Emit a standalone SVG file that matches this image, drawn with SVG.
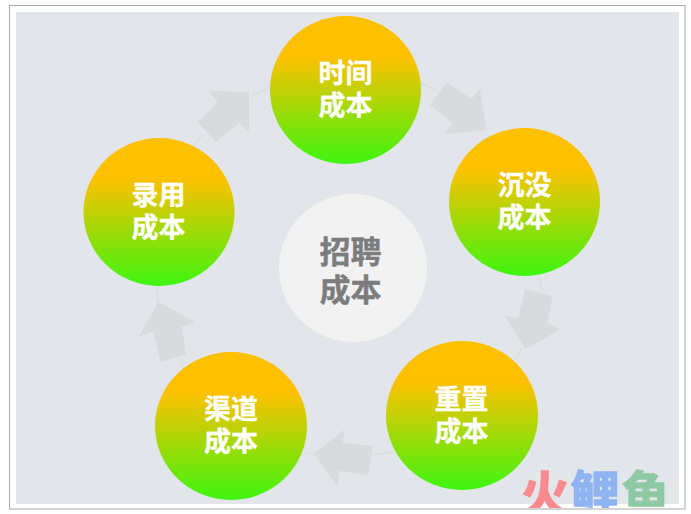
<svg xmlns="http://www.w3.org/2000/svg" width="691" height="514" viewBox="0 0 691 514">
<style>
.f{font-family:"Noto Sans CJK SC","Liberation Sans",sans-serif;font-weight:700;text-anchor:middle}
.l{font-size:27px;fill:#fff;stroke:#fff;stroke-width:.3px}
.c{font-size:31px;fill:#7b7c7e;stroke:#7b7c7e;stroke-width:.4px}
.a{fill:#d9dadb}
.t{fill:none;stroke:#d8dadd;stroke-width:1}
.w{font-size:49px;stroke-width:1.4px}
</style>
<defs>
<linearGradient id="g" x1="0" y1="0" x2="0" y2="1">
<stop offset="0.27" stop-color="#ffc000"/>
<stop offset="1" stop-color="#3ef510"/>
</linearGradient>
<clipPath id="wc"><rect x="510" y="460" width="170" height="48"/></clipPath>
</defs>
<rect width="691" height="514" fill="#fff"/>
<rect x="9.5" y="5.5" width="675.5" height="503.5" fill="#fff" stroke="#a9a9a9" stroke-width="1"/>
<rect x="16" y="12" width="663" height="492" fill="#e2e5ea"/>
<g id="connectors">
<path class="t" d="M270 87L250 97M195 144L203 135M421 83L438 92M540 276L541 291M522 348L515 360M372 455L393 452M307 452L314 455M177 355L183 365M157 286L158 302"/>
<polygon class="a" points="249,92 208.3,90.7 217.7,101.7 197.7,122.3 216,141.7 239.3,123.3 249,132.3"/>
<polygon class="a" points="446.7,82.3 471.7,99 480,89 486.7,130 445,134.3 452.7,123.3 430,105"/>
<polygon class="a" points="525,289.3 552.3,296 547.7,323.3 560,329.3 525.7,349.3 504.3,315 518.3,318.3"/>
<polygon class="a" points="314,453.3 344.3,430 342.7,442.7 372.7,446 368.3,475 339.3,470.7 337.3,486.7"/>
<polygon class="a" points="158.3,301.7 195,322.3 181.7,326.7 186,355 160.7,361.7 153.3,331.7 139.3,336"/>
</g>
<g id="node-center">
<circle cx="353" cy="268" r="74" fill="#f2f2f2"/>
<text class="f c" x="350.5" y="263">招聘</text>
<text class="f c" x="350.5" y="301">成本</text>
</g>
<g id="node-time">
<ellipse cx="345.5" cy="90" rx="75.5" ry="74" fill="url(#g)"/>
<text class="f l" x="345.5" y="83">时间</text>
<text class="f l" x="345.5" y="115">成本</text>
</g>
<g id="node-sunk">
<ellipse cx="524.5" cy="202" rx="75.5" ry="74" fill="url(#g)"/>
<text class="f l" x="524.5" y="195">沉没</text>
<text class="f l" x="524.5" y="227">成本</text>
</g>
<g id="node-reset">
<ellipse cx="462" cy="415.5" rx="76" ry="74.5" fill="url(#g)"/>
<text class="f l" x="461.5" y="409">重置</text>
<text class="f l" x="461.5" y="441">成本</text>
</g>
<g id="node-channel">
<ellipse cx="231" cy="426" rx="76" ry="74" fill="url(#g)"/>
<text class="f l" x="231" y="419">渠道</text>
<text class="f l" x="231" y="451">成本</text>
</g>
<g id="node-hire">
<ellipse cx="159" cy="212" rx="75.5" ry="74" fill="url(#g)"/>
<text class="f l" x="158.5" y="205">录用</text>
<text class="f l" x="158.5" y="237">成本</text>
</g>
<g id="watermark" clip-path="url(#wc)">
<text class="f w" x="545" y="512" fill="#f98b8f" stroke="#f98b8f">火</text>
<text class="f w" x="595" y="512" fill="#90b3f1" stroke="#90b3f1">鲤</text>
<text class="f w" x="646" y="512" fill="#8fc9a4" stroke="#8fc9a4">鱼</text>
</g>
</svg>
